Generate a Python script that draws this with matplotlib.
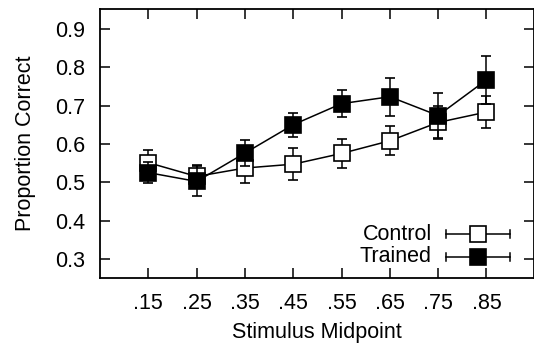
import matplotlib
matplotlib.use("Agg")
import matplotlib.pyplot as plt
from matplotlib.lines import Line2D

plt.rcParams['font.family'] = ['Liberation Sans', 'DejaVu Sans']

midpoints = [0.15, 0.25, 0.35, 0.45, 0.55, 0.65, 0.75, 0.85]
tick_labels = ['.15', '.25', '.35', '.45', '.55', '.65', '.75', '.85']
control = [0.551, 0.515, 0.537, 0.547, 0.575, 0.608, 0.656, 0.683]
control_err = [0.033, 0.031, 0.039, 0.042, 0.037, 0.038, 0.043, 0.041]
trained = [0.525, 0.502, 0.576, 0.650, 0.705, 0.723, 0.674, 0.767]
trained_err = [0.027, 0.039, 0.034, 0.031, 0.035, 0.050, 0.058, 0.062]
yticks = [0.3, 0.4, 0.5, 0.6, 0.7, 0.8, 0.9]

FS = 15.5
fig = plt.figure(figsize=(5.34, 3.49), dpi=100)
ax = fig.add_axes([100/534, 1 - 278/349, 434/534, 269/349])

ms = 11.5
ax.errorbar(midpoints, control, yerr=control_err, color='black', lw=1.1,
            marker='s', ms=ms, mfc='white', mec='black', mew=1.2,
            capsize=3.5, capthick=1.1, elinewidth=1.1, zorder=3)
ax.errorbar(midpoints, trained, yerr=trained_err, color='black', lw=1.1,
            marker='s', ms=ms, mfc='black', mec='black', mew=1.2,
            capsize=3.5, capthick=1.1, elinewidth=1.1, zorder=4)

ax.set_xlim(0.05, 0.9485)
ax.set_ylim(0.25, 0.952)
ax.set_xticks(midpoints)
ax.set_xticklabels(tick_labels)
ax.set_yticks(yticks)
ax.set_yticklabels([f"{v:.1f}" for v in yticks])
ax.tick_params(direction='in', length=7, width=1.1, top=True, right=True,
               labelsize=FS)
ax.tick_params(axis='x', pad=10.5)
ax.tick_params(axis='y', pad=10.5)
for s in ax.spines.values():
    s.set_linewidth(1.3)

ax.set_xlabel('Stimulus Midpoint', fontsize=FS, labelpad=6)
ax.set_ylabel('Proportion Correct', fontsize=FS, labelpad=14)

# gnuplot-style key
tr = ax.transAxes
def ax_x(px):
    return (px - 100) / 434
def ax_y(py):
    return (278 - py) / 269
for label, fc, py in [('Control', 'white', 234), ('Trained', 'black', 257)]:
    ax.text(ax_x(432), ax_y(py), label, transform=tr, ha='right', va='center',
            fontsize=FS)
    ax.add_line(Line2D([ax_x(446), ax_x(510)], [ax_y(py)] * 2, transform=tr,
                       color='black', lw=1.1))
    for ex in (446, 510):
        ax.add_line(Line2D([ax_x(ex)] * 2, [ax_y(py - 4), ax_y(py + 4)],
                           transform=tr, color='black', lw=1.1))
    ax.add_line(Line2D([ax_x(478)], [ax_y(py)], transform=tr, marker='s',
                       ms=ms, mfc=fc, mec='black', mew=1.2, lw=0))

fig.savefig('out.png', dpi=100)
